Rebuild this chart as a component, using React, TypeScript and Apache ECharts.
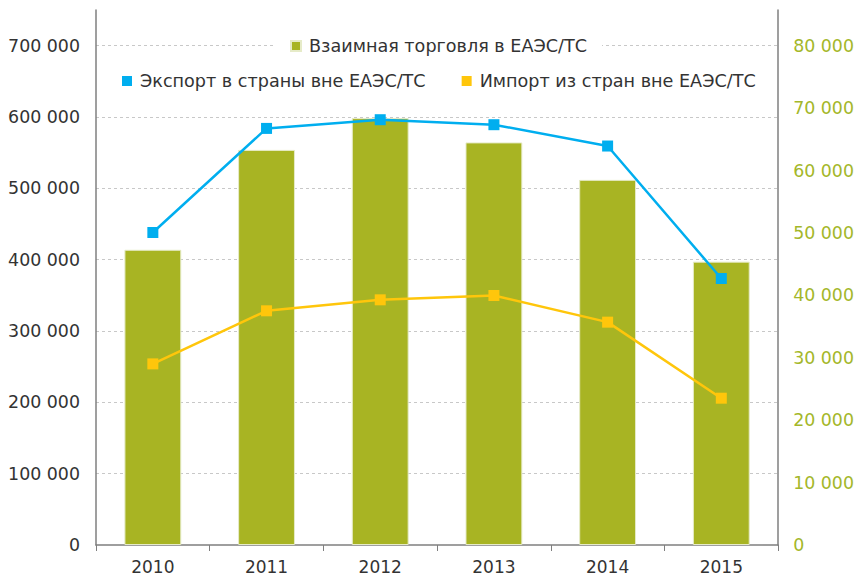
import React, { useEffect, useRef } from "react";
import * as echarts from "echarts";

const years = ["2010", "2011", "2012", "2013", "2014", "2015"];
const mutualTrade = [47300, 63300, 68400, 64500, 58500, 45400];
const exportsOut = [438100, 584000, 596200, 589200, 559300, 373600];
const importsIn = [253900, 328300, 343700, 349800, 312400, 205800];

const nameMutual = "Взаимная торговля в ЕАЭС/ТС";
const nameExport = "Экспорт в страны вне ЕАЭС/ТС";
const nameImport = "Импорт из стран вне ЕАЭС/ТС";

const FONT = "'DejaVu Sans', Verdana, sans-serif";
const fmt = (v: number) => String(Math.round(v)).replace(/\B(?=(\d{3})+(?!\d))/g, " ");

export default function App() {
  const ref = useRef<HTMLDivElement>(null);
  useEffect(() => {
    if (!ref.current) return;
    const chart = echarts.init(ref.current, undefined, { renderer: "svg" });
    const legendText = { color: "#333333", fontSize: 17.6, fontFamily: FONT, padding: [0, 0, 0, 3] };
    chart.setOption({
      animation: false,
      textStyle: { fontFamily: FONT },
      grid: { left: 96, right: 78, top: 10, bottom: 31, containLabel: false },
      legend: [
        {
          data: [nameMutual],
          left: 275,
          top: 35,
          padding: [2, 15, 2, 15],
          backgroundColor: "#ffffff",
          icon: "rect",
          itemWidth: 10,
          itemHeight: 10,
          textStyle: legendText,
          selectedMode: false,
        },
        {
          data: [nameExport, nameImport],
          left: 107,
          top: 70,
          padding: [2, 15, 2, 15],
          backgroundColor: "#ffffff",
          icon: "rect",
          itemWidth: 10,
          itemHeight: 10,
          itemGap: 36,
          textStyle: legendText,
          selectedMode: false,
        },
      ],
      xAxis: {
        type: "category",
        data: years,
        boundaryGap: true,
        axisLine: { show: true, lineStyle: { color: "#7f7f7f", width: 1.5 } },
        axisTick: { show: true, length: 6, lineStyle: { color: "#7f7f7f" } },
        axisLabel: { color: "#333333", fontSize: 17, fontFamily: FONT, margin: 13 },
        splitLine: { show: false },
      },
      yAxis: [
        {
          type: "value",
          min: 0,
          max: 750000,
          interval: 100000,
          axisLine: { show: true, lineStyle: { color: "#7f7f7f", width: 1.5 } },
          axisTick: { show: false },
          axisLabel: {
            color: "#333333",
            fontSize: 17.4,
            fontFamily: FONT,
            margin: 16,
            showMaxLabel: false,
            formatter: (v: number) => (v % 100000 === 0 ? fmt(v) : ""),
          },
          splitLine: {
            show: true,
            showMinLine: false,
            showMaxLine: false,
            lineStyle: { color: "#c8c8c8", type: [3, 3], width: 1 },
          },
        },
        {
          type: "value",
          min: 0,
          max: 85714.2857,
          interval: 10000,
          axisLine: { show: true, lineStyle: { color: "#7f7f7f", width: 1.5 } },
          axisTick: { show: false },
          axisLabel: {
            color: "#a4b72a",
            fontSize: 17.4,
            fontFamily: FONT,
            margin: 15,
            showMaxLabel: false,
            formatter: (v: number) => (v % 10000 === 0 ? fmt(v) : ""),
          },
          splitLine: { show: false },
        },
      ],
      series: [
        {
          name: nameMutual,
          type: "bar",
          yAxisIndex: 1,
          data: mutualTrade,
          barWidth: "50%",
          itemStyle: { color: "#a8b423", borderColor: "#e6ebc8", borderWidth: 1 },
          z: 1,
        },
        {
          name: nameExport,
          type: "line",
          yAxisIndex: 0,
          data: exportsOut,
          symbol: "rect",
          symbolSize: 11,
          lineStyle: { color: "#00aeef", width: 2.5 },
          itemStyle: { color: "#00aeef" },
          z: 3,
        },
        {
          name: nameImport,
          type: "line",
          yAxisIndex: 0,
          data: importsIn,
          symbol: "rect",
          symbolSize: 11,
          lineStyle: { color: "#ffc60b", width: 2.5 },
          itemStyle: { color: "#ffc60b" },
          z: 3,
        },
      ],
    });
    return () => chart.dispose();
  }, []);
  return (
    <div
      ref={ref}
      style={{ position: "fixed", left: 0, top: 0, width: 857, height: 576, background: "#ffffff" }}
    />
  );
}
